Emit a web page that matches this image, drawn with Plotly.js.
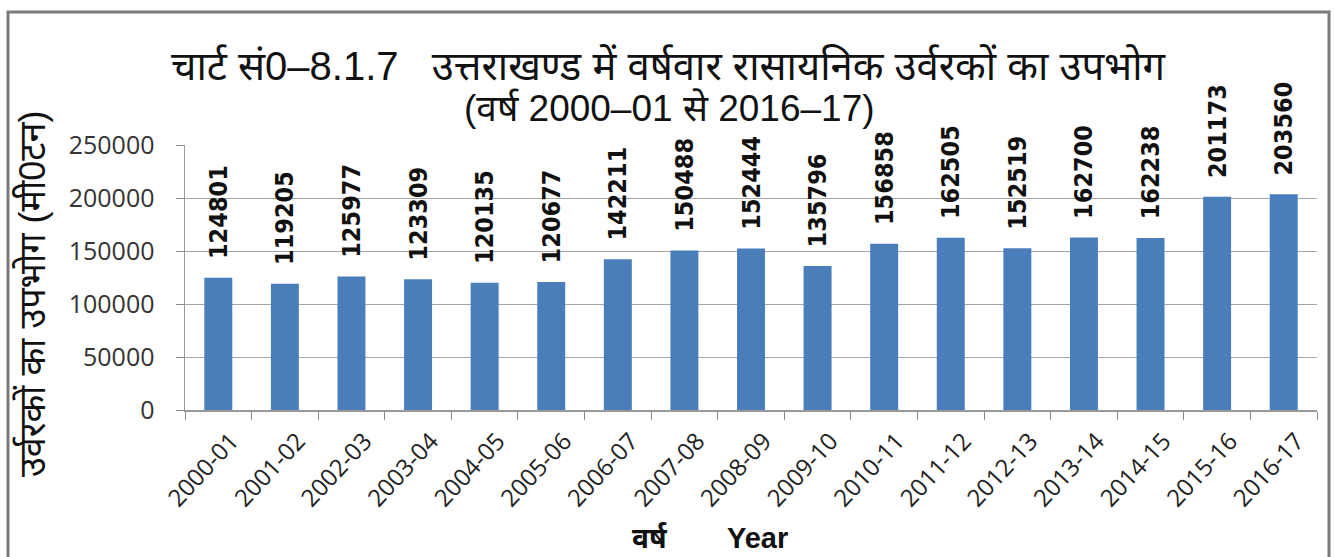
<!DOCTYPE html>
<html>
<head>
<meta charset="utf-8">
<script src="https://cdn.plot.ly/plotly-3.0.1.min.js"></script>
<style>
html,body{margin:0;padding:0;background:#fff;}
#chart{width:1335px;height:557px;}
</style>
</head>
<body>
<div id="chart"></div>
<script>
const years = ["2000-01","2001-02","2002-03","2003-04","2004-05","2005-06","2006-07","2007-08","2008-09","2009-10","2010-11","2011-12","2012-13","2013-14","2014-15","2015-16","2016-17"];
const consumption = [124801,119205,125977,123309,120135,120677,142211,150488,152444,135796,156858,162505,152519,162700,162238,201173,203560];
const yTicks = [0,50000,100000,150000,200000,250000];
const titleLine1 = 'चार्ट सं0–8.1.7   उत्तराखण्ड में वर्षवार रासायनिक उर्वरकों का उपभोग';
const titleLine2 = '(वर्ष 2000–01 से 2016–17)';
const yTitle = 'उर्वरकों का उपभोग (मी0टन)';
const xTitleHi = 'वर्ष';
const xTitleEn = 'Year';

const NB = '\u00a0\u00a0';
const narrow = '"Liberation Sans Narrow", "Liberation Sans", "Noto Sans", sans-serif';

const trace = {
  type: 'bar',
  x: years,
  y: consumption,
  marker: {color: '#4a7ebb', line: {width: 0}},
  text: consumption.map(v => NB + v),
  textposition: 'outside',
  textangle: -90,
  constraintext: 'none',
  cliponaxis: false,
  textfont: {family: '"DejaVu Sans Condensed", "DejaVu Sans", sans-serif', size: 25, color: '#111', weight: 'bold'},
  hoverinfo: 'x+y'
};

// plot area: x 185..1317 px, y 145..410 px
const L = 185, R = 1317, T = 145, B = 410;
const px = v => (v - L) / (R - L);
const py = v => (B - v) / (B - T);

const layout = {
  width: 1335, height: 557,
  margin: {l: L, r: 1335 - R, t: T, b: 557 - B},
  paper_bgcolor: '#fff', plot_bgcolor: '#fff',
  showlegend: false,
  bargap: 0.58,
  xaxis: {
    type: 'category',
    tickangle: -47,
    tickson: 'boundaries',
    ticks: 'outside', ticklen: 8, tickcolor: '#888',
    ticklabelshift: 13,
    ticklabelstandoff: 6,
    showline: true, linecolor: '#999', linewidth: 1.5,
    showgrid: false,
    tickfont: {family: '"Open Sans", "DejaVu Sans", sans-serif', size: 24, color: '#222'}
  },
  yaxis: {
    range: [0, 250000],
    tickvals: yTicks,
    ticktext: yTicks.map(String),
    ticks: 'outside', ticklen: 8, tickcolor: '#888',
    ticklabelstandoff: 16,
    showline: true, linecolor: '#999', linewidth: 1.5,
    showgrid: true, gridcolor: '#a6a6a6', gridwidth: 1,
    zeroline: false,
    tickfont: {family: '"Open Sans", "DejaVu Sans", sans-serif', size: 25, color: '#333'}
  },
  annotations: [
    {text: titleLine1, xref: 'paper', yref: 'paper', x: px(669), y: py(66), xanchor: 'center', yanchor: 'middle', showarrow: false,
     font: {family: narrow, size: 40, color: '#111'}},
    {text: titleLine2, xref: 'paper', yref: 'paper', x: px(669), y: py(108), xanchor: 'center', yanchor: 'middle', showarrow: false,
     font: {family: narrow, size: 37, color: '#111'}},
    {text: yTitle, xref: 'paper', yref: 'paper', x: px(32), y: py(294), xanchor: 'center', yanchor: 'middle', textangle: -90, showarrow: false,
     font: {family: narrow, size: 36, color: '#111'}},
    {text: xTitleHi, xref: 'paper', yref: 'paper', x: px(650), y: py(538), xanchor: 'center', yanchor: 'middle', showarrow: false,
     font: {family: narrow, size: 28, color: '#111', weight: 'bold'}},
    {text: xTitleEn, xref: 'paper', yref: 'paper', x: px(757), y: py(538), xanchor: 'center', yanchor: 'middle', showarrow: false,
     font: {family: narrow, size: 29, color: '#111', weight: 'bold'}}
  ],
  shapes: [{
    type: 'rect', xref: 'paper', yref: 'paper',
    x0: px(8), x1: px(1329), y0: py(12), y1: py(562),
    line: {color: '#7a7a7a', width: 3}, fillcolor: 'rgba(0,0,0,0)', layer: 'below'
  }]
};

Plotly.newPlot('chart', [trace], layout, {displayModeBar: false, staticPlot: true});
</script>
</body>
</html>
